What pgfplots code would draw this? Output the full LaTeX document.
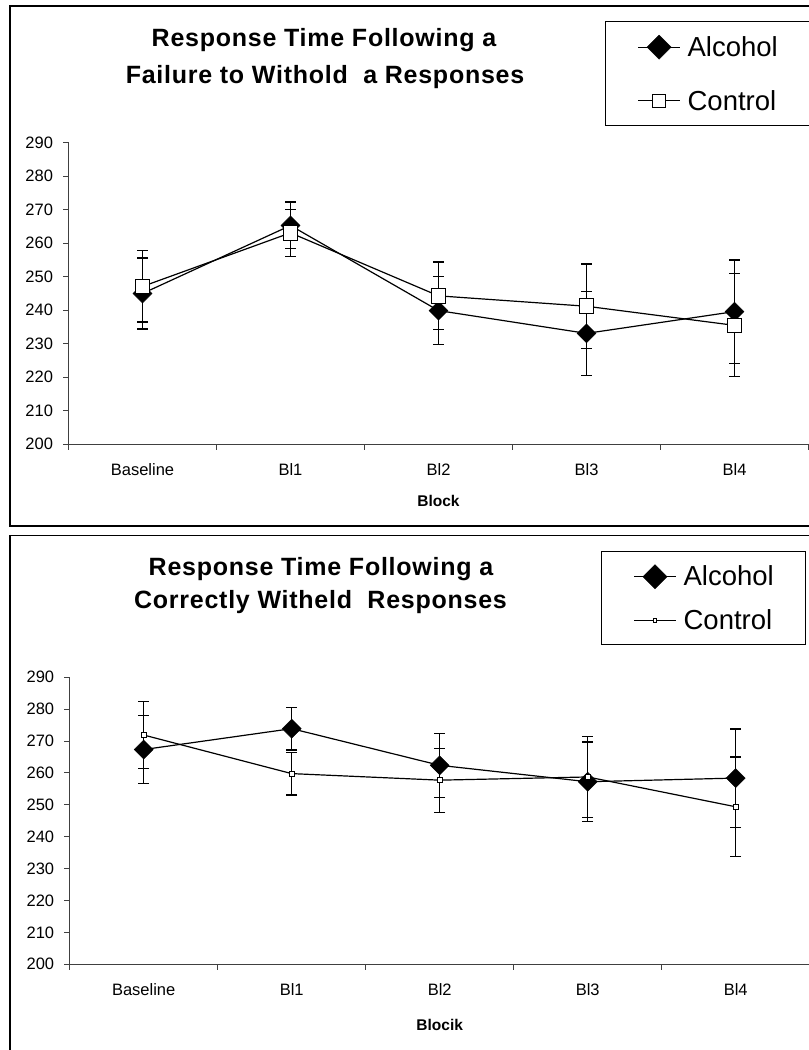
\documentclass[border=0pt]{standalone}
\usepackage{pgfplots}
\usepackage{pgfplotstable}
\pgfplotsset{compat=1.18}
\usepackage{fontspec}
\setmainfont{Liberation Sans}
\newfontfamily\titlefont{Liberation Sans}[LetterSpace=3]
\newcommand\tickfont{\fontsize{16.5bp}{19bp}\selectfont}
\newcommand\legfont{\fontsize{27.5bp}{32bp}\selectfont}
\newcommand\ttlfont{\titlefont\bfseries\fontsize{25bp}{28bp}\selectfont}
\newcommand\labfont{\bfseries\fontsize{15.5bp}{18bp}\selectfont}

\pgfplotstableread{
x y e
0 245.0 10.6
1 265.3 7.0
2 239.9 10.1
3 233.1 12.5
4 239.6 15.4
}\topalc
\pgfplotstableread{
x y e
0 247.1 10.6
1 263.1 7.0
2 244.3 10.1
3 241.2 12.6
4 235.5 15.4
}\topcon
\pgfplotstableread{
x y e
0 267.35 10.55
1 273.9 6.7
2 262.4 10.1
3 257.25 12.45
4 258.4 15.4
}\botalc
\pgfplotstableread{
x y e
0 271.9 10.5
1 259.8 6.7
2 257.75 10.05
3 258.75 12.65
4 249.4 15.6
}\botcon

\pgfplotsset{
  panel/.style={
    scale only axis, width=740bp,
    xmin=-0.5, xmax=4.5, ymin=200, ymax=290,
    axis x line*=bottom, axis y line*=left,
    axis line style={black!75, line width=1bp, -},
    xtick={-0.5,0.5,1.5,2.5,3.5,4.5}, xticklabels={,,,,,},
    extra x ticks={0,1,2,3,4},
    extra x tick labels={Baseline,Bl1,Bl2,Bl3,Bl4},
    extra x tick style={major tick length=0pt},
    xticklabel style={yshift=-16bp},
    yticklabel style={xshift=-6.5bp},
    ytick={200,210,...,290},
    major tick length=5.5bp,
    tick style={black!75, line width=1bp},
    tick align=outside,
    tick label style={font=\tickfont, black},
    /pgf/number format/assume math mode=true,
    clip=false,
    legend cell align=left,
    legend image code/.code={\draw[mark repeat=2,mark phase=2,##1] plot coordinates {(0bp,0bp) (21bp,0bp) (42bp,0bp)};},
  },
  ser/.style={black, line width=1.2bp,
    error bars/y dir=both, error bars/y explicit, error bars/error mark=-,
    error bars/error bar style={black, line width=1.1bp},
    error bars/error mark options={rotate=90, black, line width=1.1bp, mark size=5.3bp}},
}

\begin{document}
\begin{tikzpicture}
\useasboundingbox (0,0) rectangle (809bp,-1050bp);
\fill[white] (0,0) rectangle (809bp,-1050bp);
\draw[line width=1.2bp] (10bp,-6bp) rectangle (815bp,-526bp);
\draw[line width=1.2bp] (10bp,-535.7bp) rectangle (815bp,-1070bp);

\node[font=\ttlfont, anchor=base] at (324bp,-46.7bp) {Response Time Following a};
\node[font=\ttlfont, anchor=base] at (325bp,-83.3bp) {Failure to Withold\ \ a Responses};
\node[font=\ttlfont, anchor=base] at (321bp,-575bp) {Response Time Following a};
\node[font=\ttlfont, anchor=base] at (320.5bp,-608bp) {Correctly Witheld\ \ Responses};

% top panel
\begin{axis}[panel, height=301.6bp, at={(68.5bp,-444.3bp)}, anchor=south west,
  xlabel={Block}, xlabel style={font=\labfont, at={(axis description cs:0.5,0)}, anchor=base, yshift=-61.7bp},
  legend style={at={(0.725,1.4045)}, anchor=north west, draw=black, line width=0.8bp,
    inner xsep=32bp, inner ysep=14bp, row sep=31bp, font=\legfont, nodes={inner sep=0pt},
    /tikz/every odd column/.append style={column sep=7bp}}]
\addplot[ser, forget plot, mark=square*, mark size=6.7bp, mark options={rotate=45, fill=black, solid, line width=0.5bp}]
  table[x=x, y=y, y error=e] {\topalc};
\addplot[ser, forget plot, mark=square*, mark size=7.3bp, mark options={fill=white, solid, line width=1bp}]
  table[x=x, y=y, y error=e] {\topcon};
\addlegendimage{black, line width=1.2bp, mark=square*, mark size=8.5bp, mark options={rotate=45, fill=black, line width=0.5bp}}
\addlegendentry{Alcohol}
\addlegendimage{black, line width=1.2bp, mark=square*, mark size=6.2bp, mark options={fill=white, line width=1bp}}
\addlegendentry{Control}
\end{axis}

% bottom panel
\begin{axis}[panel, height=287bp, at={(69.7bp,-964.3bp)}, anchor=south west,
  xlabel={Blocik}, xlabel style={font=\labfont, at={(axis description cs:0.5,0)}, anchor=base, yshift=-66bp},
  legend style={at={(0.718,1.441)}, anchor=north west, draw=black, line width=0.8bp,
    inner xsep=32bp, inner ysep=13.5bp, row sep=21bp, font=\legfont, nodes={inner sep=0pt},
    /tikz/every odd column/.append style={column sep=7bp}}]
\addplot[ser, forget plot, mark=square*, mark size=6.7bp, mark options={rotate=45, fill=black, solid, line width=0.5bp}]
  table[x=x, y=y, y error=e] {\botalc};
\addplot[ser, forget plot, mark=square*, mark size=2.5bp, mark options={fill=white, solid, line width=0.9bp}]
  table[x=x, y=y, y error=e] {\botcon};
\addlegendimage{black, line width=1.2bp, mark=square*, mark size=8.5bp, mark options={rotate=45, fill=black, line width=0.5bp}}
\addlegendentry{Alcohol}
\addlegendimage{black, line width=1.2bp, mark=square*, mark size=1.8bp, mark options={fill=white, line width=0.9bp}}
\addlegendentry{Control}
\end{axis}
\end{tikzpicture}
\end{document}
